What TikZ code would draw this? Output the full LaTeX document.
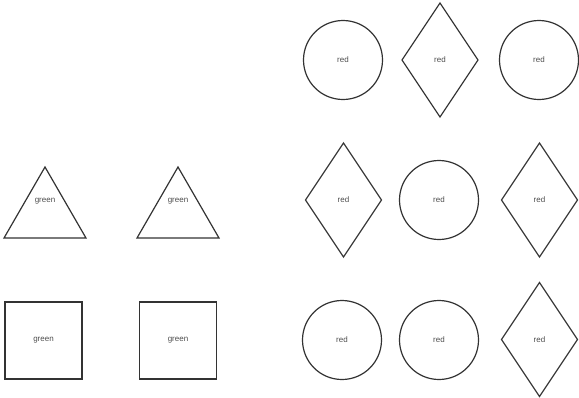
\documentclass[tikz,border=0pt]{standalone}
\usepackage{fontspec}
\setmainfont{Liberation Sans}
\usetikzlibrary{shapes.geometric}
\tikzset{
  shp/.style={draw=black!80, line width=1.2pt, inner sep=0pt, outer sep=0pt, font=\fontsize{8}{9}\selectfont, text=black!70},
  circ/.style={shp, circle, minimum size=79pt},
  diam/.style={shp, diamond, minimum width=76pt, minimum height=114pt},
  sq/.style={shp, rectangle, minimum width=77pt, minimum height=77pt},
  tri/.style={shp, regular polygon, regular polygon sides=3, minimum size=94.6pt},
  lbl/.style={inner sep=0pt, font=\fontsize{8}{9}\selectfont, text=black!70}
}
\begin{document}
\begin{tikzpicture}[x=1pt,y=-1pt]
\useasboundingbox (0,0) rectangle (579,397);
% right grid
\node[circ] (c11) at (343,60) {red};
\node[diam] (d12) at (440,60) {red};
\node[circ] (c13) at (539,60) {red};
\node[diam] (d21) at (343.5,200) {red};
\node[circ] (c22) at (439,200) {red};
\node[diam] (d23) at (539.5,200) {red};
\node[circ] (c31) at (342,340) {red};
\node[circ] (c32) at (439,340) {red};
\node[diam] (d33) at (539.5,339.5) {red};
% triangles
\node[tri] (t1) at (45,214.3) {};
\node[lbl] (t1l) at (45,201) {green};
\node[tri] (t2) at (178,214.3) {};
\node[lbl] (t2l) at (178,201) {green};
% squares
\node[sq] (s1) at (43.5,340.5) {green};
\node[sq] (s2) at (178,340.5) {green};
\end{tikzpicture}
\end{document}
